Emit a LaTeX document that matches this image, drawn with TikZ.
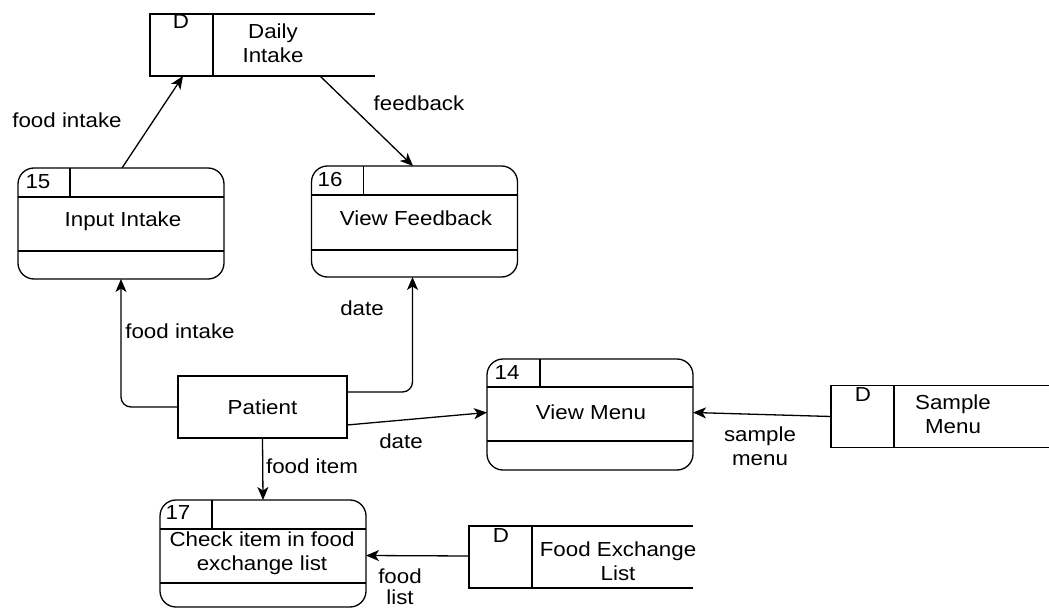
\documentclass[tikz,border=0pt]{standalone}
\usepackage{fontspec}
\setmainfont{Liberation Sans}[FakeStretch=1.1]
\usetikzlibrary{arrows.meta,calc}

\begin{document}
\begin{tikzpicture}[x=1pt,y=-1pt,line width=1.3pt,
  every node/.style={font=\fontsize{20.3}{23.5}\selectfont,inner sep=0pt,outer sep=0pt,align=center},
  proc/.style={draw,rounded corners=16pt,minimum width=206pt,minimum height=111pt},
  storebox/.style={minimum width=#1,minimum height=62pt},
  flow/.style={-{Stealth[length=13pt,width=11pt,inset=3.5pt]}},
  elbow/.style={flow,rounded corners=10pt},
]
\useasboundingbox (0,0) rectangle (1049,609);
\clip (0,0) rectangle (1049,609);

% ---- data stores (open on the right) ----
\node[storebox=225pt] (ds1) at (262.5,45) {};
\node[storebox=218pt] (ds2) at (940,416.5) {};
\node[storebox=224pt] (ds3) at (581,557) {};
\foreach \s in {ds1,ds2,ds3}{
  \draw (\s.north east) -- (\s.north west) -- (\s.south west) -- (\s.south east);
  \draw ([xshift=63pt]\s.north west) -- ([xshift=63pt]\s.south west);
}
\node (ds1id) at (181,22) {D};
\node (ds1t) at (273,43) {Daily\\Intake};
\node (ds2id) at (863,395) {D};
\node (ds2t) at (953,414) {Sample\\Menu};
\node (ds3id) at (501,536) {D};
\node (ds3t) at (618,561) {Food Exchange\\List};

% ---- processes ----
\node[proc] (p15) at (121,223.5) {};
\node[proc] (p16) at (414.5,221.5) {};
\node[proc] (p14) at (590,414.5) {};
\node[proc,minimum height=107pt] (p17) at (263,553.5) {};
% compartment lines: header, body, footer
\foreach \p/\hd/\ft/\dv in {p15/29/83/52, p16/29/84/52, p14/28/82/53, p17/29/83/52}{
  \draw ([yshift=-\hd pt]\p.north west) -- ([yshift=-\hd pt]\p.north east);
  \draw ([yshift=-\ft pt]\p.north west) -- ([yshift=-\ft pt]\p.north east);
  \draw ([xshift=\dv pt]\p.north west) -- ([xshift=\dv pt,yshift=-\hd pt]\p.north west);
}
\node (p15id) at (38,182) {15};
\node (p15t) at (123,221) {Input Intake};
\node (p16id) at (330,180) {16};
\node (p16t) at (416,218) {View Feedback};
\node (p14id) at (507,373) {14};
\node (p14t) at (591,412) {View Menu};
\node (p17id) at (178,513) {17};
\node (p17t) at (262,553) {Check item in food\\exchange list};

% ---- external entity ----
\node[draw,minimum width=169pt,minimum height=62pt] (pat) at (262.5,407) {Patient};

% ---- data flows ----
\draw[flow] ([xshift=1pt]p15.north) -- ([xshift=33pt]ds1.south west);
\draw[flow] ([xshift=170pt]ds1.south west) -- ([xshift=-1.5pt]p16.north);
\draw[elbow] (pat.west) -| (p15.south);
\draw[elbow] ([yshift=15pt]pat.east) -| ([xshift=-2pt]p16.south);
\draw[flow] ([yshift=-18pt]pat.east) -- ([yshift=2pt]p14.west);
\draw[flow] (pat.south) -- (p17.north);
\draw[flow] (ds2.west) -- ([yshift=2pt]p14.east);
\draw[flow] ([yshift=1pt]ds3.west) -- ([yshift=-2pt]p17.east);

% ---- flow labels ----
\node (l1) at (67,120) {food intake};
\node (l2) at (419,103) {feedback};
\node (l3) at (180,331) {food intake};
\node (l4) at (362,308) {date};
\node (l5) at (401,441) {date};
\node (l6) at (312,466) {food item};
\node (l7) at (760,446) {sample\\menu};
\node[font=\fontsize{20.3}{21}\selectfont] (l8) at (400,587) {food\\list};
\end{tikzpicture}
\end{document}
